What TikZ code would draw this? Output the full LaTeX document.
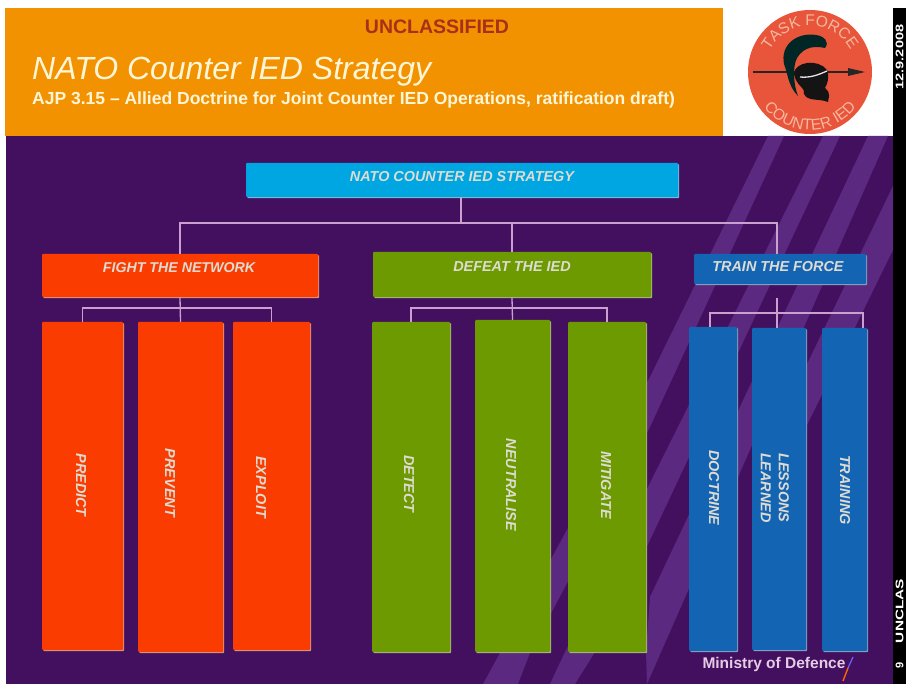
\documentclass[tikz,border=0pt]{standalone}
\usepackage{fontspec}
\setmainfont{Liberation Sans}
\usetikzlibrary{decorations.text,shadows,calc}
\definecolor{bgpurple}{HTML}{43105F}
\definecolor{stripe}{HTML}{5B2A80}
\definecolor{orangeband}{HTML}{F39200}
\definecolor{navyred}{HTML}{A8301A}
\definecolor{cream}{HTML}{FFF6D8}
\definecolor{labelc}{HTML}{DEDCD2}
\definecolor{linkc}{HTML}{C9A0D0}
\definecolor{cyanbox}{HTML}{00A6E2}
\definecolor{redbox}{HTML}{FB3C00}
\definecolor{greenbox}{HTML}{6C9A00}
\definecolor{bluebox}{HTML}{1464B4}
\definecolor{logored}{HTML}{E8553A}
\definecolor{logotext}{HTML}{F5B8A0}
\tikzset{
  x=1pt,y=-1pt,
  boxb/.style={fill=#1,draw=none,inner sep=0pt,rounded corners=1pt,
    general shadow={fill=#1!55!white!75!gray,shadow xshift=1.2pt,shadow yshift=-1.2pt}},
  lab/.style={text=labelc,font=\bfseries\itshape\fontsize{#1}{#1}\selectfont,inner sep=0pt,align=center},
  vlab/.style={text=labelc,font=\bfseries\itshape\fontsize{14.4}{18}\selectfont,inner sep=0pt,align=center,rotate=-90},
  link/.style={draw=linkc,line width=1.3pt},
  strp/.style={fill=stripe,draw=none},
  sidetxt/.style={inner sep=0pt,rotate=90,text=white,font=\bfseries\fontsize{11}{11}\selectfont},
  logolab/.style={}
}
\begin{document}
\begin{tikzpicture}
\useasboundingbox (0,0) rectangle (906,684);
\fill[white] (0,0) rectangle (906,684);
\fill[bgpurple] (6,136) rectangle (893,684);
\fill[orangeband] (5,8) rectangle (723,136);
\fill[black] (893,8) rectangle (906,684);
% background stripes
\fill[strp] (768,136) -- (784,136) -- (650,427) -- (530,653) -- (518,684) -- (483,684) -- (500,653) -- (650,377) -- cycle;
\fill[strp] (823,136) -- (840,136) -- (650,540) -- (595,652) -- (575,684) -- (550,684) -- (565,652) -- (650,483) -- cycle;
\fill[strp] (868,136) -- (888,136) -- (647,684) -- (646,652) -- (650,597) -- cycle;
\fill[strp] (893,186) -- (893,250) -- (780,480) -- (780,420) -- cycle;
% header texts
\node[inner sep=0pt,text=navyred,font=\bfseries\fontsize{19.5}{20}\selectfont] (uncl) at (437,27) {UNCLASSIFIED};
\node[anchor=west,inner sep=0pt,text=cream,font=\itshape\fontsize{32}{32}\selectfont] (title) at (32,72) {NATO Counter IED Strategy};
\node[anchor=west,inner sep=0pt,text=cream,font=\bfseries\fontsize{17.5}{18}\selectfont] (subtitle) at (32,100) {AJP 3.15 – Allied Doctrine for Joint Counter IED Operations, ratification draft)};
% side strip
\node[sidetxt] (date) at (899.5,57) {\scalebox{1.32}[1]{12.9.2008}};
\node[sidetxt] (uncl2) at (899.5,611) {\scalebox{1.4}[1]{UNCLAS}};
\node[sidetxt] (pageno) at (899.5,665) {9};
% logo
\begin{scope}[shift={(810,72)},y=1pt]
  \fill[logored] (0,0) circle[radius=62];
  \fill[black!85] (-57,1) rectangle (40,-1);
  \fill[black!85] (38,4) -- (55,0) -- (38,-4) -- cycle;
  % crest
  \fill[black!70!teal] (-26,8) .. controls (-30,28) and (-12,40) .. (6,37)
     .. controls (14,36) and (20,30) .. (15,24)
     .. controls (6,26) and (-6,26) .. (-13,14)
     .. controls (-18,4) and (-16,-14) .. (-12,-24)
     .. controls (-22,-14) and (-22,-2) .. (-26,8) -- cycle;
  % helmet
  \fill[black!92] (-16,-2) .. controls (-16,10) and (8,14) .. (17,2)
     .. controls (20,-6) and (17,-12) .. (15,-16)
     .. controls (22,-22) and (18,-26) .. (18,-30)
     .. controls (8,-26) and (-2,-30) .. (-6,-22)
     .. controls (-4,-16) and (-14,-14) .. (-16,-2) -- cycle;
  \draw[white!80!gray,line width=1.3pt] (-10,-5) .. controls (0,-6) and (8,-3) .. (17,1);
  \path[decorate,decoration={text along path,text align=center,
    text={|\fontsize{15.5}{16}\selectfont\color{logotext}|TASK FORCE}}]
    (172:46) arc[start angle=172,end angle=8,radius=46];
  \path[decorate,decoration={text along path,text align=center,
    text={|\fontsize{15.5}{16}\selectfont\color{logotext}|COUNTER IED}}]
    (188:58) arc[start angle=188,end angle=352,radius=58];
\end{scope}
% top box
\node[boxb=cyanbox,minimum width=432pt,minimum height=34pt] (top) at (462,180) {};
\node[lab=14.4] (topL) at (462,177) {NATO COUNTER IED STRATEGY};
% second row
\node[boxb=redbox,minimum width=276pt,minimum height=43pt] (fight) at (180,275.5) {};
\node[lab=14.2] (fightL) at (179,268) {FIGHT THE NETWORK};
\node[boxb=greenbox,minimum width=278pt,minimum height=45pt] (defeat) at (512,274.5) {};
\node[lab=14.4] (defeatL) at (512,267) {DEFEAT THE IED};
\node[boxb=bluebox,minimum width=172pt,minimum height=30pt] (train) at (780,269) {};
\node[lab=14.4] (trainL) at (778,267) {TRAIN THE FORCE};
% columns
\node[boxb=redbox,minimum width=81pt,minimum height=328pt] (predict) at (82.5,486) {};
\node[boxb=redbox,minimum width=85pt,minimum height=330pt] (prevent) at (180.5,487) {};
\node[boxb=redbox,minimum width=77pt,minimum height=328pt] (exploit) at (271.5,486) {};
\node[boxb=greenbox,minimum width=78pt,minimum height=330pt] (detect) at (411,487) {};
\node[boxb=greenbox,minimum width=75pt,minimum height=332pt] (neutralise) at (512.5,486) {};
\node[boxb=greenbox,minimum width=78pt,minimum height=330pt] (mitigate) at (607,487) {};
\node[boxb=bluebox,minimum width=48pt,minimum height=324pt] (doctrine) at (713,489) {};
\node[boxb=bluebox,minimum width=54pt,minimum height=322pt] (lessons) at (779,489) {};
\node[boxb=bluebox,minimum width=45pt,minimum height=323pt] (training) at (844.5,489.5) {};
\node[vlab] (predictL) at (81,485) {PREDICT};
\node[vlab] (preventL) at (170,483) {PREVENT};
\node[vlab] (exploitL) at (261,487) {EXPLOIT};
\node[vlab] (detectL) at (409,484) {DETECT};
\node[vlab] (neutraliseL) at (511,485) {NEUTRALISE};
\node[vlab] (mitigateL) at (606,485) {MITIGATE};
\node[vlab] (doctrineL) at (714,488) {DOCTRINE};
\node[vlab] (lessonsL) at (775,488) {LESSONS\\LEARNED};
\node[vlab] (trainingL) at (845,490) {TRAINING};
% connectors
\coordinate (busA) at (461,223);
\coordinate (busB) at (180,308);
\coordinate (busC) at (512,308);
\coordinate (busD) at (777,313);
\coordinate (trainDrop) at (777,254);
\coordinate (trainOut) at (777,298);
\coordinate (docTop) at (710,327);
\coordinate (trnTop) at (863,328);
\draw[link] (top.south -| busA) -- (busA);
\draw[link] (fight.north) |- (busA);
\draw[link] (defeat.north) |- (busA);
\draw[link] (trainDrop) |- (busA);
\draw[link] (fight.south) -- (prevent.north);
\draw[link] (predict.north) |- (busB) -| (exploit.north);
\draw[link] (defeat.south) -- (neutralise.north);
\draw[link] (detect.north) |- (busC) -| (mitigate.north);
\draw[link] (trainOut) -- (lessons.north -| trainOut);
\draw[link] (docTop) |- (busD) -| (trnTop);
% footer
\node[inner sep=0pt,text=white!80!violet,font=\bfseries\fontsize{15.5}{16}\selectfont] (mod) at (774,664) {Ministry of Defence};
\coordinate (slashA) at (853,657);
\coordinate (slashB) at (848,668);
\coordinate (slashC) at (843,681);
\draw[line width=1.2pt,color=blue!60!white] (slashA) -- (slashB);
\draw[line width=1.4pt,color=orange!80!red] (slashB) -- (slashC);
\end{tikzpicture}
\end{document}
